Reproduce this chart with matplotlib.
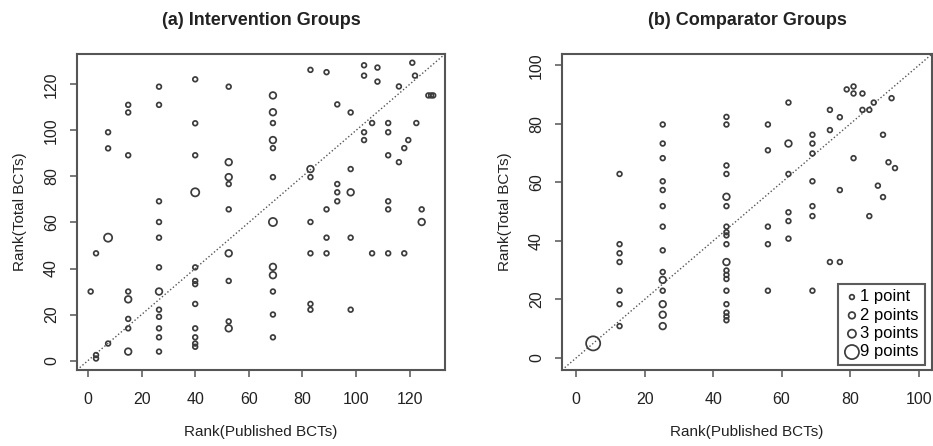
import numpy as np
import matplotlib.pyplot as plt

plt.rcParams['font.family'] = ['Liberation Sans Narrow', 'Liberation Sans', 'DejaVu Sans']

# (a) intervention groups: rank of published BCTs, rank of total BCTs, number of groups at that spot
int_x = [1, 3, 3, 3,
         7.5, 7.5, 7.5, 7.5,
         15, 15, 15, 15, 15, 15, 15, 15,
         26.5, 26.5, 26.5, 26.5, 26.5, 26.5, 26.5, 26.5, 26.5, 26.5, 26.5, 26.5,
         40, 40, 40, 40, 40, 40, 40, 40, 40, 40, 40, 40,
         52.5, 52.5, 52.5, 52.5, 52.5, 52.5, 52.5, 52.5, 52.5,
         69, 69, 69, 69, 69, 69, 69, 69, 69, 69, 69, 69,
         83, 83, 83, 83, 83, 83, 83,
         89, 89, 89, 89,
         93, 93, 93, 93,
         98, 98, 98, 98, 98,
         103, 103, 103, 103,
         106, 106, 108, 108,
         112, 112, 112, 112, 112, 112,
         116, 116, 118, 118, 119.5, 121, 122, 122.5,
         124.5, 124.5, 127, 128, 128.8]
int_y = [30, 46.6, 2.4, 0.9,
         99.2, 92.2, 53.4, 7.4,
         111.1, 107.8, 89.2, 30, 26.6, 18.1, 14, 3.9,
         119, 111.1, 69.2, 60.2, 53.4, 40.5, 30, 22.1, 19, 14, 10.1, 3.9,
         122.2, 103.1, 89.2, 73.1, 40.5, 34.6, 33.2, 24.6, 14, 10.1, 7.4, 6,
         119, 86.2, 79.7, 76.7, 65.7, 46.6, 34.6, 17, 14,
         115.2, 107.9, 103.2, 95.8, 92.3, 79.7, 60.2, 40.7, 37.1, 30, 20, 10.1,
         126.3, 83.2, 79.7, 60.2, 46.6, 24.6, 22.1,
         125.3, 65.7, 53.4, 46.6,
         111.3, 76.7, 73.1, 69.2,
         107.8, 83.2, 73.1, 53.4, 22.1,
         128.3, 123.8, 99.2, 95.8,
         103.2, 46.6, 127.3, 121.2,
         103.2, 99.2, 89.2, 69.2, 65.7, 46.6,
         119.1, 86.2, 92.3, 46.6, 95.8, 129.4, 123.8, 103.2,
         65.7, 60.2, 115.2, 115.2, 115.2]
int_n = [1, 1, 1, 1,
         1, 1, 3, 1,
         1, 1, 1, 1, 2, 1, 1, 2,
         1, 1, 1, 1, 1, 1, 2, 1, 1, 1, 1, 1,
         1, 1, 1, 3, 1, 1, 1, 1, 1, 1, 1, 1,
         1, 2, 2, 1, 1, 2, 1, 1, 2,
         2, 2, 1, 2, 1, 1, 3, 2, 2, 1, 1, 1,
         1, 2, 1, 1, 1, 1, 1,
         1, 1, 1, 1,
         1, 1, 1, 1,
         1, 1, 2, 1, 1,
         1, 1, 1, 1,
         1, 1, 1, 1,
         1, 1, 1, 1, 1, 1,
         1, 1, 1, 1, 1, 1, 1, 1,
         1, 2, 1, 1, 1]

# (b) comparator groups
comp_x = [5,
          12.7, 12.7, 12.7, 12.7, 12.7, 12.7, 12.7,
          25.3, 25.3, 25.3, 25.3, 25.3, 25.3, 25.3, 25.3, 25.3, 25.3, 25.3, 25.3, 25.3, 25.3,
          43.9, 43.9, 43.9, 43.9, 43.9, 43.9, 43.9, 43.9, 43.9, 43.9, 43.9, 43.9, 43.9,
          43.9, 43.9, 43.9, 43.9, 43.9, 43.9,
          56, 56, 56, 56, 56,
          62, 62, 62, 62, 62, 62,
          69, 69, 69, 69, 69, 69, 69,
          74.1, 74.1, 74.1, 77, 77, 77,
          79, 81, 81, 81, 83.6, 83.6, 85.6, 85.6,
          86.9, 88.1, 89.6, 89.6, 91.2, 92.1, 93.1]
comp_y = [5,
          62.9, 38.9, 35.8, 32.8, 23, 18.4, 10.9,
          79.8, 73.3, 68.3, 60.4, 57.4, 51.9, 44.9, 36.8, 29.4, 26.7, 23, 18.4, 14.8, 10.9,
          82.4, 79.8, 65.8, 62.9, 55.1, 51.9, 44.9, 43, 41.9, 38.9, 32.8, 29.9, 28.4,
          27, 23, 18.4, 15.5, 14.2, 12.9,
          79.8, 71, 44.9, 38.9, 23,
          87.3, 73.3, 62.9, 49.8, 46.8, 40.8,
          76.3, 73.3, 69.9, 60.4, 51.9, 48.5, 23,
          84.8, 77.9, 32.8, 82.3, 57.4, 32.8,
          91.8, 92.8, 90.4, 68.3, 90.4, 84.8, 84.8, 48.5,
          87.3, 58.9, 76.3, 55, 66.9, 88.8, 64.9]
comp_n = [9,
          1, 1, 1, 1, 1, 1, 1,
          1, 1, 1, 1, 1, 1, 1, 1, 1, 2, 1, 2, 2, 2,
          1, 1, 1, 1, 2, 1, 1, 1, 1, 1, 2, 1, 1,
          1, 1, 1, 1, 1, 1,
          1, 1, 1, 1, 1,
          1, 2, 1, 1, 1, 1,
          1, 1, 1, 1, 1, 1, 1,
          1, 1, 1, 1, 1, 1,
          1, 1, 1, 1, 1, 1, 1, 1,
          1, 1, 1, 1, 1, 1, 1]

legend_counts = [1, 2, 3, 9]
legend_labels = ['1 point', '2 points', '3 points', '9 points']

ink = '#3c3c3c'


def msize(n):
    # circle diameter grows with sqrt(count)
    return 11.5 * np.asarray(n, dtype=float)


def panel(ax, x, y, n, title, lim, ticks):
    ax.set_xlim(lim)
    ax.set_ylim(lim)
    ax.plot(lim, lim, ls=(0, (1, 1.6)), color='#555555', lw=1.0, zorder=1)
    ax.scatter(x, y, s=msize(n), facecolors='none', edgecolors=ink, linewidths=1.25, zorder=2)
    ax.set_xticks(ticks)
    ax.set_yticks(ticks)
    ax.tick_params(direction='out', length=5, width=1.1, color='#555555',
                   labelsize=11.5, labelcolor='#222222')
    ax.tick_params(axis='x', pad=11)
    ax.tick_params(axis='y', pad=8)
    for lab in ax.get_yticklabels():
        lab.set_rotation(90)
        lab.set_va('center')
    for sp in ax.spines.values():
        sp.set_color('#555555')
        sp.set_linewidth(1.5)
    ax.set_title(title, fontsize=13, fontweight='bold', pad=21, color='#222222')
    ax.set_xlabel('Rank(Published BCTs)', fontsize=11, labelpad=13, color='#222222')
    ax.set_ylabel('Rank(Total BCTs)', fontsize=11, labelpad=12, color='#222222')


fig = plt.figure(figsize=(9.33, 4.46), dpi=100)
ax1 = fig.add_axes([77 / 933, 1 - 370 / 446, (445 - 77) / 933, (370 - 54) / 446])
ax2 = fig.add_axes([562 / 933, 1 - 370 / 446, (932 - 562) / 933, (370 - 54) / 446])

panel(ax1, int_x, int_y, int_n, '(a) Intervention Groups', (-4.1, 133.2), range(0, 121, 20))
panel(ax2, comp_x, comp_y, comp_n, '(b) Comparator Groups', (-4.1, 103.9), range(0, 101, 20))

handles = [ax2.scatter([], [], s=msize(c), facecolors='none', edgecolors=ink, linewidths=1.25)
           for c in legend_counts]
leg = ax2.legend(handles, legend_labels, loc='lower right', bbox_to_anchor=(0.98, 0.015),
                 fontsize=12, frameon=True, fancybox=False, borderpad=0.35,
                 handletextpad=0.0, handlelength=1.0, labelspacing=0.2, borderaxespad=0)
leg.get_frame().set_edgecolor('#333333')
leg.get_frame().set_linewidth(1.5)

fig.savefig('out.png', dpi=100)
